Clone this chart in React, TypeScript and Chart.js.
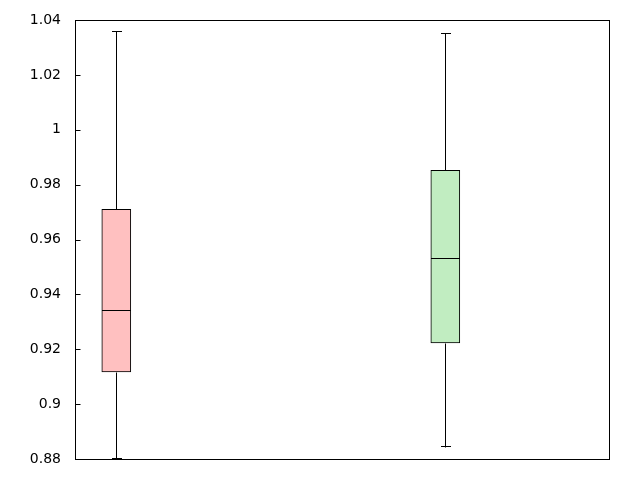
import React, { useEffect, useRef } from "react";
import { Chart, registerables } from "chart.js";

Chart.register(...registerables);

const positions = [1, 2];
const mins = [0.88, 0.8844];
const q1s = [0.9117, 0.9223];
const medians = [0.9343, 0.9531];
const q3s = [0.971, 0.9852];
const maxs = [1.0359, 1.0352];
const fillColors = ["#ffc0c0", "#c1edc1"];
const yTickLabels = ["0.88", "0.9", "0.92", "0.94", "0.96", "0.98", "1", "1.02", "1.04"];
const yMin = 0.88;
const yMax = 1.04;
const yStep = 0.02;

const boxPlugin = {
  id: "boxExtras",
  afterDatasetsDraw(chart: any) {
    const { ctx, scales } = chart;
    const xs = scales.x;
    const ys = scales.y;
    const half = 14;
    const cap = 4.5;
    ctx.save();
    ctx.strokeStyle = "#000";
    ctx.lineWidth = 1;
    const px = (v: number) => Math.round(v) + 0.5;
    positions.forEach((p, i) => {
      const cx = xs.getPixelForValue(p);
      const lx = px(cx);
      ctx.beginPath();
      ctx.moveTo(lx, px(ys.getPixelForValue(q3s[i])));
      ctx.lineTo(lx, px(ys.getPixelForValue(maxs[i])));
      ctx.moveTo(lx, px(ys.getPixelForValue(q1s[i])));
      ctx.lineTo(lx, px(ys.getPixelForValue(mins[i])));
      const yt = px(ys.getPixelForValue(maxs[i]));
      const yb = px(ys.getPixelForValue(mins[i])) - 1;
      ctx.moveTo(Math.round(cx - cap), yt);
      ctx.lineTo(Math.round(cx + cap) + 1, yt);
      ctx.moveTo(Math.round(cx - cap), yb);
      ctx.lineTo(Math.round(cx + cap) + 1, yb);
      const ym = px(ys.getPixelForValue(medians[i]));
      ctx.moveTo(Math.round(cx - half), ym);
      ctx.lineTo(Math.round(cx + half) + 1, ym);
      ctx.stroke();
    });
    ctx.restore();
  },
  afterDraw(chart: any) {
    const { ctx, chartArea, scales } = chart;
    const ys = scales.y;
    ctx.save();
    ctx.strokeStyle = "#000";
    ctx.lineWidth = 1;
    const l = Math.round(chartArea.left) + 0.5;
    const t = Math.round(chartArea.top) + 0.5;
    const r = Math.round(chartArea.right) + 0.5;
    const b = Math.round(chartArea.bottom) + 0.5;
    ctx.strokeRect(l, t, r - l, b - t);
    ctx.beginPath();
    ys.ticks.forEach((tk: any) => {
      const y = Math.round(ys.getPixelForValue(tk.value)) + 0.5;
      ctx.moveTo(l, y);
      ctx.lineTo(l + 5, y);
    });
    ctx.stroke();
    ctx.restore();
  },
};

export default function App() {
  const ref = useRef<HTMLCanvasElement | null>(null);
  useEffect(() => {
    if (!ref.current) return;
    const chart = new Chart(ref.current, {
      type: "bar",
      data: {
        datasets: [
          {
            data: positions.map((p, i) => ({ x: p, y: [q1s[i], q3s[i]] })) as any,
            backgroundColor: fillColors,
            borderColor: "#000",
            borderWidth: 1,
            borderSkipped: false,
            barThickness: 29,
          },
        ],
      },
      options: {
        animation: false,
        responsive: false,
        layout: { padding: { left: 0, top: 20, right: 31, bottom: 21 } },
        plugins: { legend: { display: false }, tooltip: { enabled: false } },
        scales: {
          x: {
            type: "linear",
            min: 0.8745,
            max: 2.4975,
            offset: false,
            display: false,
          },
          y: {
            type: "linear",
            min: yMin,
            max: yMax,
            afterFit: (s: any) => {
              s.width = 75;
              s.paddingTop = 0;
              s.paddingBottom = 0;
            },
            grid: { display: false, drawTicks: false },
            border: { display: false },
            ticks: {
              stepSize: yStep,
              padding: 14,
              color: "#000",
              font: { family: "DejaVu Sans", size: 14 },
              callback: (v: any) => {
                const idx = Math.round((Number(v) - yMin) / yStep);
                return yTickLabels[idx] ?? "";
              },
            },
          },
        },
      },
      plugins: [boxPlugin],
    });
    return () => chart.destroy();
  }, []);
  return (
    <div style={{ position: "absolute", left: 0, top: 0, width: 640, height: 480, background: "#fff" }}>
      <canvas ref={ref} width={640} height={480} />
    </div>
  );
}
